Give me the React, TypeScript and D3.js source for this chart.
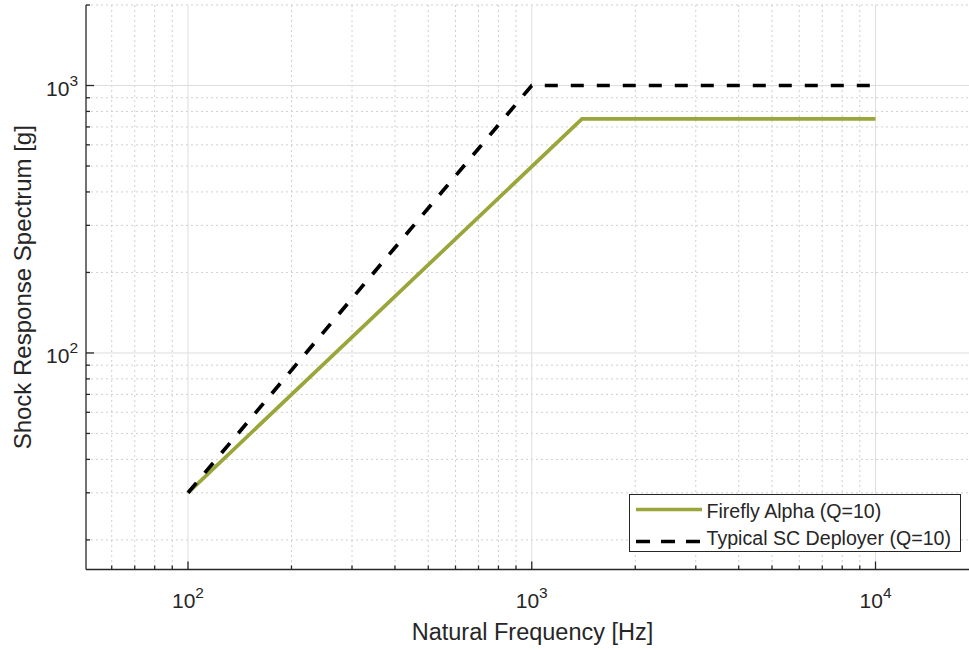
import { useEffect, useRef } from "react";
import * as d3 from "d3";

// Shock response spectrum breakpoints (log-log)
const fireflyFreq = [100, 1400, 10000];
const fireflySrs = [30, 750, 750];
const deployerFreq = [100, 1000, 10000];
const deployerSrs = [30, 1000, 1000];

const seriesNames = ["Firefly Alpha (Q=10)", "Typical SC Deployer (Q=10)"];
const xMajorTicks = [100, 1000, 10000];
const yMajorTicks = [100, 1000];

const FONT = "'Liberation Sans', Arial, Helvetica, sans-serif";
const TEXT = "#262626";

export default function App() {
  const svgRef = useRef<SVGSVGElement>(null);

  useEffect(() => {
    if (!svgRef.current) return;
    const root = d3.select(svgRef.current);
    root.selectAll("*").remove();

    const width = 969;
    const height = 650;
    const left = 86;
    const top = 5;
    const bottom = 569.5;
    const right = 979;

    const x = d3.scaleLog().domain([50.5, 20000]).range([left, right]);
    const y = d3.scaleLog().domain([15.5, 2000]).range([bottom, top]);

    root.attr("width", width).attr("height", height);

    root
      .append("defs")
      .append("clipPath")
      .attr("id", "plot")
      .append("rect")
      .attr("x", left)
      .attr("y", top)
      .attr("width", right - left)
      .attr("height", bottom - top);

    const g = root.append("g");

    // minor ticks
    const xMinor: number[] = [];
    const yMinor: number[] = [];
    for (const dec of [10, 100, 1000, 10000]) {
      for (let k = 2; k <= 9; k++) {
        const v = dec * k;
        if (v > x.domain()[0] && v <= x.domain()[1]) xMinor.push(v);
        if (v > y.domain()[0] && v <= y.domain()[1]) yMinor.push(v);
      }
    }

    // minor grid
    g.selectAll(".xminor")
      .data(xMinor)
      .enter()
      .append("line")
      .attr("x1", (d) => x(d))
      .attr("x2", (d) => x(d))
      .attr("y1", top)
      .attr("y2", bottom)
      .attr("stroke", "#d0d0d0")
      .attr("stroke-width", 1)
      .attr("stroke-dasharray", "2,3");
    g.selectAll(".yminor")
      .data(yMinor)
      .enter()
      .append("line")
      .attr("x1", left)
      .attr("x2", right)
      .attr("y1", (d) => y(d))
      .attr("y2", (d) => y(d))
      .attr("stroke", "#d0d0d0")
      .attr("stroke-width", 1)
      .attr("stroke-dasharray", "2,3");

    // major grid
    g.selectAll(".xmajor")
      .data(xMajorTicks)
      .enter()
      .append("line")
      .attr("x1", (d) => x(d))
      .attr("x2", (d) => x(d))
      .attr("y1", top)
      .attr("y2", bottom)
      .attr("stroke", "#dedede")
      .attr("stroke-width", 1);
    g.selectAll(".ymajor")
      .data(yMajorTicks)
      .enter()
      .append("line")
      .attr("x1", left)
      .attr("x2", right)
      .attr("y1", (d) => y(d))
      .attr("y2", (d) => y(d))
      .attr("stroke", "#dedede")
      .attr("stroke-width", 1);

    // lines
    const line = d3
      .line<[number, number]>()
      .x((d) => x(d[0]))
      .y((d) => y(d[1]));

    const plot = g.append("g").attr("clip-path", "url(#plot)");
    plot
      .append("path")
      .attr("d", line(fireflyFreq.map((f, i) => [f, fireflySrs[i]])))
      .attr("fill", "none")
      .attr("stroke", "#9aa53a")
      .attr("stroke-width", 3.7);
    plot
      .append("path")
      .attr("d", line(deployerFreq.map((f, i) => [f, deployerSrs[i]])))
      .attr("fill", "none")
      .attr("stroke", "#000")
      .attr("stroke-width", 3.7)
      .attr("stroke-dasharray", "13,13");

    // axes lines
    g.append("line")
      .attr("x1", left)
      .attr("x2", left)
      .attr("y1", top)
      .attr("y2", bottom)
      .attr("stroke", TEXT)
      .attr("stroke-width", 1.3);
    g.append("line")
      .attr("x1", left)
      .attr("x2", right)
      .attr("y1", bottom)
      .attr("y2", bottom)
      .attr("stroke", TEXT)
      .attr("stroke-width", 1.3);

    // ticks (inward)
    const tickX = (vals: number[], len: number) =>
      g
        .selectAll(null)
        .data(vals)
        .enter()
        .append("line")
        .attr("x1", (d) => x(d))
        .attr("x2", (d) => x(d))
        .attr("y1", bottom)
        .attr("y2", bottom - len)
        .attr("stroke", TEXT)
        .attr("stroke-width", 1.3);
    const tickY = (vals: number[], len: number) =>
      g
        .selectAll(null)
        .data(vals)
        .enter()
        .append("line")
        .attr("x1", left)
        .attr("x2", left + len)
        .attr("y1", (d) => y(d))
        .attr("y2", (d) => y(d))
        .attr("stroke", TEXT)
        .attr("stroke-width", 1.3);
    tickX(xMinor, 4);
    tickX(xMajorTicks, 8);
    tickY(yMinor, 4);
    tickY(yMajorTicks, 8);

    // tick labels
    const expLabel = (sel: d3.Selection<SVGTextElement, number, any, any>) => {
      sel.append("tspan").text("10");
      sel
        .append("tspan")
        .attr("dy", -10)
        .attr("font-size", 15.5)
        .text((d) => String(Math.round(Math.log10(d))));
    };
    g.selectAll(".xlab")
      .data(xMajorTicks)
      .enter()
      .append("text")
      .attr("x", (d) => x(d))
      .attr("y", 607.5)
      .attr("text-anchor", "middle")
      .attr("font-family", FONT)
      .attr("font-size", 21)
      .attr("fill", TEXT)
      .call(expLabel);
    g.selectAll(".ylab")
      .data(yMajorTicks)
      .enter()
      .append("text")
      .attr("x", 78)
      .attr("y", (d) => y(d) + 10.5)
      .attr("text-anchor", "end")
      .attr("font-family", FONT)
      .attr("font-size", 21)
      .attr("fill", TEXT)
      .call(expLabel);

    // axis titles
    g.append("text")
      .attr("x", (left + right) / 2)
      .attr("y", 639.5)
      .attr("text-anchor", "middle")
      .attr("font-family", FONT)
      .attr("font-size", 23.5)
      .attr("fill", TEXT)
      .text("Natural Frequency [Hz]");
    g.append("text")
      .attr("transform", `translate(31,${(top + bottom) / 2}) rotate(-90)`)
      .attr("text-anchor", "middle")
      .attr("font-family", FONT)
      .attr("font-size", 24)
      .attr("fill", TEXT)
      .text("Shock Response Spectrum [g]");

    // legend
    const lg = g.append("g");
    lg.append("rect")
      .attr("x", 629.5)
      .attr("y", 494.5)
      .attr("width", 331)
      .attr("height", 57)
      .attr("fill", "#fff")
      .attr("stroke", TEXT)
      .attr("stroke-width", 1);
    const rows = [
      { name: seriesNames[0], color: "#9aa53a", dash: null, ly: 509.5, ty: 518 },
      { name: seriesNames[1], color: "#000", dash: "14,11", ly: 541.5, ty: 545 },
    ];
    rows.forEach((r) => {
      lg.append("line")
        .attr("x1", 636)
        .attr("x2", 702)
        .attr("y1", r.ly)
        .attr("y2", r.ly)
        .attr("stroke", r.color)
        .attr("stroke-width", 3.7)
        .attr("stroke-dasharray", r.dash ?? "none");
      lg.append("text")
        .attr("x", 706.5)
        .attr("y", r.ty)
        .attr("font-family", FONT)
        .attr("font-size", 19.6)
        .attr("fill", TEXT)
        .text(r.name);
    });
  }, []);

  return (
    <div style={{ position: "fixed", left: 0, top: 0, width: 969, height: 650, overflow: "hidden", background: "#fff" }}>
      <svg ref={svgRef}></svg>
    </div>
  );
}
